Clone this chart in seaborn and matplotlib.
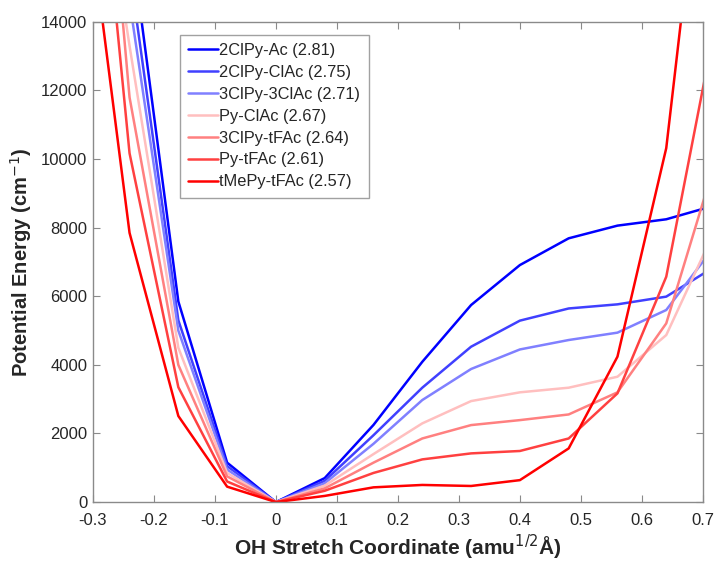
import numpy as np
import pandas as pd
import matplotlib
matplotlib.use("Agg")
import matplotlib.pyplot as plt
import seaborn as sns

x = [-0.32, -0.24, -0.16, -0.08, 0.0, 0.08, 0.16, 0.24, 0.32, 0.40, 0.48, 0.56, 0.64, 0.72]

series_names = ["2ClPy-Ac (2.81)", "2ClPy-ClAc (2.75)", "3ClPy-3ClAc (2.71)", "Py-ClAc (2.67)",
                "3ClPy-tFAc (2.64)", "Py-tFAc (2.61)", "tMePy-tFAc (2.57)"]

e_2ClPy_Ac    = [30000, 16700, 5850, 1150, 0, 700, 2250, 4090, 5745, 6910, 7690, 8060, 8245, 8650]
e_2ClPy_ClAc  = [28000, 15540, 5300, 1050, 0, 620, 1950, 3335, 4530, 5290, 5645, 5765, 5990, 6870]
e_3ClPy_3ClAc = [27000, 14600, 5000, 950, 0, 550, 1700, 2975, 3880, 4450, 4725, 4940, 5600, 7480]
e_Py_ClAc     = [22600, 13300, 4500, 850, 0, 480, 1400, 2295, 2945, 3200, 3335, 3655, 4870, 7940]
e_3ClPy_tFAc  = [27800, 11800, 4000, 750, 0, 400, 1150, 1855, 2245, 2390, 2555, 3200, 5210, 9900]
e_Py_tFAc     = [24700, 10170, 3350, 600, 0, 330, 850, 1245, 1420, 1490, 1855, 3170, 6570, 13880]
e_tMePy_tFAc  = [19000, 7850, 2510, 450, 0, 180, 430, 500, 470, 640, 1565, 4240, 10320, 22600]

all_series = [e_2ClPy_Ac, e_2ClPy_ClAc, e_3ClPy_3ClAc, e_Py_ClAc, e_3ClPy_tFAc, e_Py_tFAc, e_tMePy_tFAc]
colors = [(0, 0, 1), (0.25, 0.25, 1), (0.5, 0.5, 1), (1, 0.75, 0.75),
          (1, 0.5, 0.5), (1, 0.25, 0.25), (1, 0, 0)]

rows = []
for name, vals in zip(series_names, all_series):
    for xi, v in zip(x, vals):
        rows.append({"x": xi, "E": v, "complex": name})
df = pd.DataFrame(rows)

sns.set_style("white")
plt.rcParams["font.family"] = ["Liberation Sans", "DejaVu Sans"]

fig = plt.figure(figsize=(7.15, 5.61), dpi=100)
ax = fig.add_axes([0.130, 0.105, 0.853, 0.856])

sns.lineplot(data=df, x="x", y="E", hue="complex", palette=dict(zip(series_names, colors)),
             hue_order=series_names, sort=False, linewidth=1.8, ax=ax)

ax.set_xlim(-0.3, 0.7)
ax.set_ylim(0, 14000)
ax.set_xticks(np.arange(-0.3, 0.71, 0.1))
ax.set_xticklabels(["-0.3", "-0.2", "-0.1", "0", "0.1", "0.2", "0.3", "0.4", "0.5", "0.6", "0.7"])
ax.set_yticks(np.arange(0, 14001, 2000))
ax.set_yticklabels([str(v) for v in range(0, 14001, 2000)])

for sp in ax.spines.values():
    sp.set_visible(True)
    sp.set_color("#8a8a8a")
    sp.set_linewidth(1.0)
ax.tick_params(direction="in", length=5, width=0.8, color="#8a8a8a", labelsize=12,
               labelcolor="#262626", top=True, right=True, bottom=True, left=True)
ax.tick_params(axis="x", pad=8)
ax.tick_params(axis="y", pad=4)

ax.set_xlabel("OH Stretch Coordinate (amu$^{1/2}$Å)", fontsize=15, fontweight="bold", color="#262626", labelpad=3)
ax.set_ylabel("Potential Energy (cm$^{-1}$)", fontsize=14.5, fontweight="bold", color="#262626", labelpad=5)

leg = ax.legend(loc="upper left", bbox_to_anchor=(0.143, 0.973), borderaxespad=0,
                fontsize=11.8, frameon=True, fancybox=False, edgecolor="#8a8a8a",
                handlelength=1.8, handletextpad=0.1, labelspacing=0.42, borderpad=0.5)
leg.get_frame().set_linewidth(1.0)
leg.set_title(None)

fig.savefig("out.png", dpi=100)
